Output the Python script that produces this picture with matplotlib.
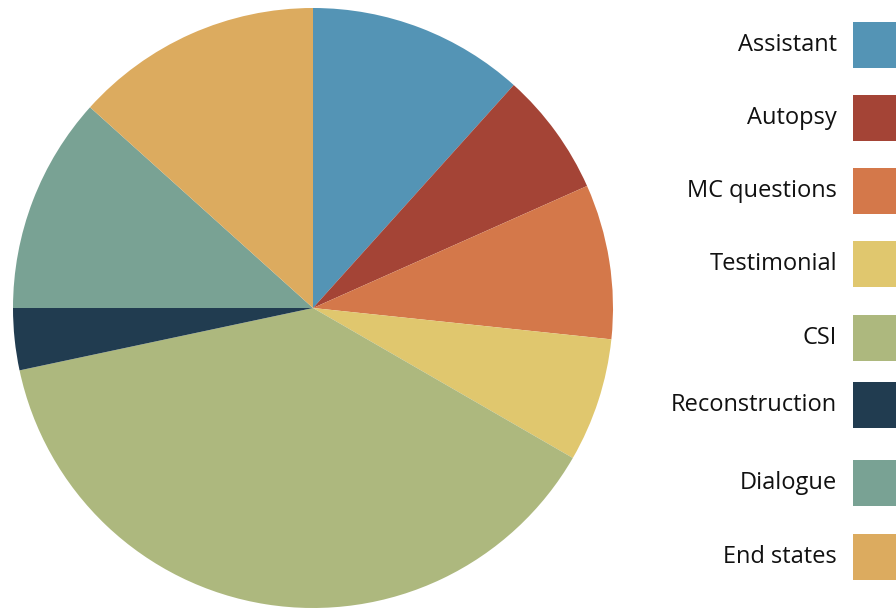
import matplotlib
matplotlib.use("Agg")
import matplotlib.pyplot as plt
from matplotlib.patches import Rectangle

categories = ["Assistant", "Autopsy", "MC questions", "Testimonial", "CSI",
              "Reconstruction", "Dialogue", "End states"]
counts = [7, 4, 5, 4, 23, 2, 7, 8]
colors = ["#5494b5", "#a44436", "#d4784a", "#e0c76e", "#adb87e",
          "#213c50", "#79a294", "#dcab5f"]

W, H = 896, 609
fig = plt.figure(figsize=(W / 100, H / 100), dpi=100)

# pie centred at (313, 308) px with radius 300 px
cx, cy, r = 313, 308, 300
ax = fig.add_axes([(cx - r) / W, (H - cy - r) / H, 2 * r / W, 2 * r / H])
ax.pie(counts, colors=colors, startangle=90, counterclock=False, radius=1,
       wedgeprops=dict(linewidth=0))
ax.set_xlim(-1, 1)
ax.set_ylim(-1, 1)
ax.set_aspect("equal")
ax.axis("off")

# legend: label on the left, colour swatch on the right
row_y = [45, 118, 191, 264, 338, 405, 483, 557]
sw_x, sw_w, sw_h = 853, 50, 46
for name, col, y in zip(categories, colors, row_y):
    fig.patches.append(Rectangle((sw_x / W, (H - y - sw_h / 2) / H), sw_w / W, sw_h / H,
                                 transform=fig.transFigure, facecolor=col,
                                 edgecolor="none"))
    fig.text(837 / W, (H - y) / H, name, ha="right", va="center",
             fontsize=17, family="Open Sans", color="#111111")

fig.savefig("out.png", dpi=100)
